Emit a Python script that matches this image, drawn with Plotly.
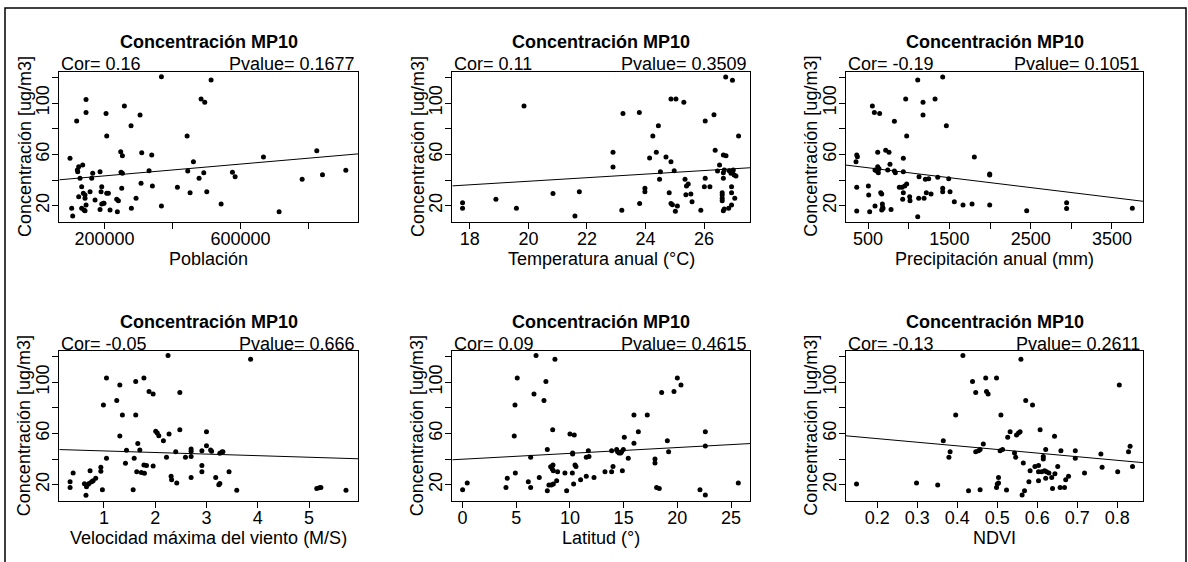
import numpy as np
import plotly.graph_objects as go

W, H = 1188, 562

# ---------------- data ----------------
pob_x = [98500,103400,106400,118100,120100,121100,124000,124000,127900,132800,132800,135800,137700,139700,142600,142600,
         145600,145600,145600,142600,157400,162300,165200,172100,186800,186800,189700,191700,191700,196600,198500,204400,
         206400,206400,211300,216200,235800,237700,240700,247500,248500,250500,252500,252500,258300,277900,278900,292600,
         304400,307300,309300,330900,338700,340700,367200,367200,414200,442700,444600,451500,461300,477900,483800,494600,
         491700,500500,513200,542700,576000,583900,667200,713200,780900,824000,840700,909300]
pob_y = [56.9,17.9,12.0,86.0,47.8,46.5,50.4,27.0,41.3,34.8,17.9,51.7,29.6,16.6,25.7,28.3,
         102.8,92.7,20.5,16.1,30.9,41.3,45.2,24.4,46.5,17.1,30.9,34.8,21.3,21.8,21.8,91.9,
         74.3,29.6,29.6,16.6,24.9,15.3,23.9,62.1,46.0,33.5,58.9,45.2,97.6,82.3,17.9,25.7,
         90.6,37.4,61.3,47.3,59.5,35.3,19.7,120.5,34.3,74.3,47.0,30.1,54.3,41.3,103.1,100.5,
         45.7,30.9,117.9,21.3,46.0,42.6,57.9,15.3,40.5,62.8,44.1,47.5]

temp_x = [17.75,17.75,18.89,19.59,19.85,20.84,21.59,21.74,22.89,22.89,23.19,23.23,23.79,23.80,23.98,23.98,24.14,24.25,
          24.37,24.44,24.51,24.48,24.70,24.81,24.87,24.87,24.87,24.92,24.98,25.02,25.04,25.09,25.31,25.35,25.38,25.40,
          25.46,25.55,25.59,25.89,26.04,26.04,26.01,26.20,26.34,26.38,26.46,26.53,26.62,26.62,26.62,26.62,26.66,26.66,
          26.66,26.74,26.69,26.66,26.69,26.75,26.84,26.86,26.92,26.94,26.94,26.97,26.97,26.94,27.03,27.05,27.09,27.18,27.00]
temp_y = [22.3,17.9,24.9,17.9,97.7,29.4,12.0,30.9,61.6,50.1,16.4,91.9,92.7,21.6,33.5,30.9,57.1,74.3,
          61.6,82.3,46.5,40.5,57.9,30.1,54.3,103.1,21.6,20.8,47.3,15.6,103.1,19.7,100.5,40.5,28.6,35.3,
          36.9,29.1,23.1,16.4,86.0,41.3,34.8,34.8,90.9,63.1,47.0,51.7,30.1,28.3,25.7,23.9,41.3,45.7,
          59.5,120.3,47.8,16.1,17.4,58.9,17.9,47.3,45.2,30.1,34.8,117.7,46.5,20.5,43.9,25.7,43.1,74.3,47.8]

prec_x = [361,369,352,361,361,504,508,520,553,578,586,586,607,619,619,627,635,643,656,668,668,676,684,680,
          717,742,758,770,783,824,824,836,885,918,926,934,934,934,951,963,975,975,1012,1016,1111,1111,1127,1123,
          1176,1176,1189,1205,1217,1246,1275,1324,1357,1418,1418,1418,1463,1492,1508,1561,1668,1779,1807,1996,1996,1996,
          2451,2942,2942,3750]
prec_y = [59.5,58.2,54.3,34.3,15.8,35.3,28.3,15.3,97.6,92.7,19.7,47.8,47.0,61.6,50.4,45.7,48.8,91.9,30.1,29.1,16.6,21.3,17.7,18.7,
          63.1,47.8,61.6,52.2,17.1,85.7,47.0,45.7,34.3,34.3,24.9,56.9,46.5,30.1,35.3,103.1,74.3,36.9,27.0,23.9,11.4,117.9,42.6,25.7,
          100.5,90.6,25.7,40.5,30.1,41.0,29.1,103.1,42.1,120.3,33.5,30.9,82.3,41.0,30.9,23.1,20.5,21.3,57.9,44.7,43.9,20.5,
          16.1,22.3,17.7,17.9]

vel_x = [0.34,0.34,0.40,0.62,0.65,0.66,0.68,0.71,0.73,0.76,0.79,0.84,0.94,0.94,0.97,0.99,1.05,1.05,1.25,1.31,1.31,1.36,
         1.42,1.44,1.59,1.57,1.62,1.62,1.64,1.66,1.70,1.73,1.78,1.78,1.79,1.83,1.88,1.96,1.96,2.01,2.04,2.07,2.16,2.22,
         2.25,2.27,2.31,2.32,2.40,2.42,2.48,2.48,2.59,2.70,2.70,2.70,2.70,2.91,2.91,2.91,3.00,3.00,3.08,3.10,3.18,3.24,
         3.26,3.26,3.30,3.32,3.44,3.59,3.86,5.15,5.20,5.23,5.72]
vel_y = [22.3,17.9,29.1,20.8,11.7,18.4,20.0,21.0,30.9,22.3,23.1,25.0,33.6,30.4,16.1,82.3,103.4,40.6,85.7,97.9,58.0,74.5,
         36.7,46.8,40.6,16.1,100.5,74.5,30.2,52.1,47.1,29.6,103.4,35.4,28.9,34.9,92.7,90.9,34.6,61.7,60.4,58.3,54.4,41.4,
         120.8,59.6,26.5,23.9,45.8,21.3,91.9,63.0,41.4,47.9,46.1,42.1,25.7,46.6,34.9,30.2,61.4,50.5,47.1,46.1,25.7,20.0,
         21.0,44.5,45.5,45.8,30.2,15.6,118.0,17.1,17.7,17.9,15.6]

lat_x = [0.0,0.43,4.04,4.16,4.81,4.88,4.91,5.09,6.12,6.34,6.34,6.65,6.84,7.14,7.58,7.76,7.89,7.89,8.04,8.20,8.26,8.35,
         8.39,8.42,8.45,8.45,8.60,8.76,8.85,9.53,9.69,10.0,10.22,10.25,10.25,10.34,10.40,10.47,10.56,10.99,11.52,11.52,
         11.71,11.77,12.24,13.26,13.88,13.88,14.01,14.35,14.44,14.57,14.72,14.81,14.88,14.97,15.06,15.43,15.96,15.96,
         16.37,17.20,17.92,17.92,18.07,18.32,18.54,19.07,19.19,19.69,20.0,20.34,22.11,22.61,22.61,22.61,25.68]
lat_y = [16.1,21.3,17.9,25.0,58.0,82.3,29.1,103.4,22.3,41.4,17.9,90.9,120.8,25.7,85.7,100.5,47.4,15.3,19.7,34.1,19.7,32.2,
         63.0,35.4,30.9,20.5,118.0,23.1,30.2,29.1,15.3,59.6,29.1,44.8,44.0,20.5,58.8,35.4,34.3,23.9,26.5,41.4,
         46.6,42.1,25.7,30.2,30.2,46.6,34.3,47.4,45.8,44.8,44.8,45.8,30.9,47.4,57.0,40.6,74.5,52.3,
         61.4,74.5,40.1,36.9,17.9,17.1,91.9,54.4,45.8,92.7,103.4,97.9,16.1,61.4,50.2,11.9,21.3]

ndvi_x = [0.148,0.298,0.351,0.365,0.379,0.382,0.396,0.414,0.428,0.438,0.446,0.446,0.453,0.457,0.457,0.465,0.471,0.473,
          0.477,0.498,0.498,0.500,0.503,0.503,0.507,0.509,0.513,0.523,0.526,0.532,0.543,0.546,0.548,0.553,0.557,0.559,
          0.562,0.565,0.568,0.571,0.582,0.579,0.588,0.594,0.603,0.603,0.603,0.607,0.611,0.615,0.615,0.618,0.621,0.621,
          0.623,0.629,0.636,0.638,0.643,0.644,0.651,0.657,0.659,0.668,0.671,0.678,0.695,0.695,0.718,0.759,0.762,0.801,
          0.805,0.828,0.832,0.838]
ndvi_y = [20.5,21.3,19.7,54.4,41.4,45.8,74.5,120.8,15.3,100.5,91.9,45.8,46.6,16.1,47.4,51.8,103.4,92.7,
          90.9,103.4,17.9,20.5,25.7,21.3,46.6,74.5,47.4,15.8,57.0,61.4,44.8,41.4,58.8,60.4,61.4,118.0,
          11.9,36.9,15.3,85.7,30.9,22.3,82.3,34.3,34.9,23.1,30.2,63.0,30.2,42.1,40.1,30.9,47.4,25.0,
          30.2,29.1,25.7,17.1,57.8,28.6,34.3,17.9,46.6,17.9,23.9,26.5,46.6,40.6,29.1,44.0,33.6,30.2,
          97.9,45.8,50.0,34.3]

x_titles = ["Población", "Temperatura anual (°C)", "Precipitación anual (mm)",
            "Velocidad máxima del viento (M/S)", "Latitud (°)", "NDVI"]
cor_text = ["0.16", "0.11", "-0.19", "-0.05", "0.09", "-0.13"]
pval_text = ["0.1677", "0.3509", "0.1051", "0.666", "0.4615", "0.2611"]
x_tickvals = [[200000, 400000, 600000, 800000], [18, 20, 22, 24, 26],
              [500, 1000, 1500, 2000, 2500, 3000, 3500], [1, 2, 3, 4, 5],
              [0, 5, 10, 15, 20, 25], [0.2, 0.3, 0.4, 0.5, 0.6, 0.7, 0.8]]
x_ticktext = [["200000", "", "600000", ""], ["18", "20", "22", "24", "26"],
              ["500", "", "1500", "", "2500", "", "3500"], ["1", "2", "3", "4", "5"],
              ["0", "5", "10", "15", "20", "25"], ["0.2", "0.3", "0.4", "0.5", "0.6", "0.7", "0.8"]]
y_tickvals = [20, 40, 60, 80, 100, 120]
y_ticktext = ["20", "", "60", "", "100", ""]
y_title = "Concentración [ug/m3]"
main_title = "Concentración MP10"

xs = [pob_x, temp_x, prec_x, vel_x, lat_x, ndvi_x]
ys = [pob_y, temp_y, prec_y, vel_y, lat_y, ndvi_y]

# ---------------- layout geometry ----------------
x_ranges = [[67000, 946000], [17.40, 27.57], [229, 3885], [0.13, 5.96], [-0.96, 26.77], [0.1217, 0.865]]
y_range = [7.5, 124.4]
col_px = [(59.3, 358.3), (452.3, 750.0), (846.0, 1143.3)]
row_px = [(71.7, 221.7), (351.0, 500.7)]

FONT = "Liberation Sans, Arial, sans-serif"
FS = 18

def px(x):
    return x / W

def py(y):
    return 1 - y / H

fig = go.Figure()
annotations = []
for i in range(6):
    r, c = divmod(i, 3)
    x0, x1 = col_px[c]
    y0, y1 = row_px[r]
    n = i + 1
    xa = "xaxis" if n == 1 else f"xaxis{n}"
    ya = "yaxis" if n == 1 else f"yaxis{n}"
    xref = "x" if n == 1 else f"x{n}"
    yref = "y" if n == 1 else f"y{n}"

    fig.add_trace(go.Scatter(x=xs[i], y=ys[i], mode="markers", xaxis=xref, yaxis=yref,
                             marker=dict(size=5, color="black"), showlegend=False))
    b, a = np.polyfit(np.array(xs[i], float), np.array(ys[i], float), 1)
    lx = np.array(x_ranges[i], float)
    fig.add_trace(go.Scatter(x=lx, y=a + b * lx, mode="lines", xaxis=xref, yaxis=yref,
                             line=dict(color="black", width=1), showlegend=False))

    fig.layout[xa] = dict(domain=[px(x0), px(x1)], range=x_ranges[i], anchor=yref,
                          showline=True, mirror=True, linecolor="black", linewidth=1,
                          showgrid=False, zeroline=False, ticks="outside", ticklen=6,
                          tickcolor="black", tickvals=x_tickvals[i], ticktext=x_ticktext[i],
                          ticklabelstandoff=-5,
                          tickfont=dict(family=FONT, size=FS, color="black"))
    fig.layout[ya] = dict(domain=[py(y1), py(y0)], range=y_range, anchor=xref,
                          showline=True, mirror=True, linecolor="black", linewidth=1,
                          showgrid=False, zeroline=False, ticks="outside", ticklen=6,
                          tickcolor="black", tickvals=y_tickvals, ticktext=y_ticktext,
                          tickangle=-90, ticklabelstandoff=-4,
                          tickfont=dict(family=FONT, size=FS, color="black"))

    cx = (x0 + x1) / 2
    cy = (y0 + y1) / 2
    annotations += [
        dict(text=f"<b>{main_title}</b>", x=px(cx), y=py(y0 - 29.5), xref="paper", yref="paper",
             xanchor="center", yanchor="middle", showarrow=False,
             font=dict(family=FONT, size=FS, color="black")),
        dict(text=f"Cor= {cor_text[i]}", x=px(x0), y=py(y0 - 7.5), xref="paper", yref="paper",
             xanchor="left", yanchor="middle", showarrow=False,
             font=dict(family=FONT, size=FS, color="black")),
        dict(text=f"Pvalue= {pval_text[i]}", x=px(x1 - 1), y=py(y0 - 7.5), xref="paper", yref="paper",
             xanchor="right", yanchor="middle", showarrow=False,
             font=dict(family=FONT, size=FS, color="black")),
        dict(text=x_titles[i], x=px(cx), y=py(y1 + 37), xref="paper", yref="paper",
             xanchor="center", yanchor="middle", showarrow=False,
             font=dict(family=FONT, size=FS, color="black")),
        dict(text=y_title, x=px(x0 - 35), y=py(cy), xref="paper", yref="paper",
             xanchor="center", yanchor="middle", showarrow=False, textangle=-90,
             font=dict(family=FONT, size=FS, color="black")),
    ]

fig.update_layout(
    width=W, height=H, margin=dict(l=0, r=0, t=0, b=0),
    paper_bgcolor="white", plot_bgcolor="white",
    annotations=annotations,
    shapes=[dict(type="rect", xref="paper", yref="paper",
                 x0=px(5), x1=px(1186), y0=-0.05, y1=py(8),
                 line=dict(color="black", width=1.5))],
)

fig.write_html("out.html")
